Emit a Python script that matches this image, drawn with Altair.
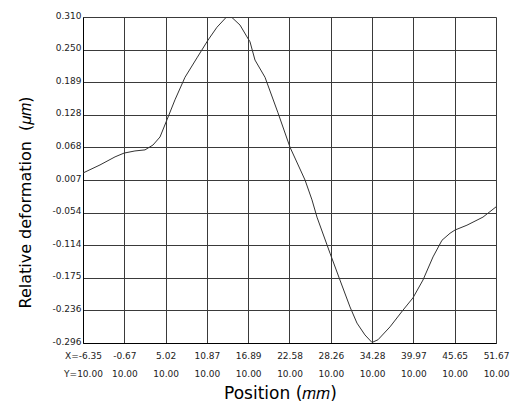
import altair as alt
import pandas as pd

# curve (position in mm, relative deformation in um)
pos_mm = [-6.35, -3.96, -1.85, -0.59, 0.95, 2.36, 3.48, 4.47, 5.45, 6.57, 7.98, 9.66,
          11.21, 12.47, 13.74, 14.58, 15.71, 16.69, 17.11, 17.81, 19.22, 21.04, 22.73,
          24.84, 25.82, 26.52, 28.35, 29.75, 31.16, 32.14, 33.26, 34.25, 35.09, 36.78,
          38.60, 40.01, 41.41, 42.82, 44.08, 45.21, 45.91, 47.59, 49.84, 51.67]
deform_um = [0.020, 0.035, 0.050, 0.057, 0.061, 0.063, 0.072, 0.087, 0.119, 0.156, 0.198, 0.234,
             0.267, 0.291, 0.309, 0.309, 0.295, 0.273, 0.264, 0.230, 0.198, 0.132, 0.068,
             0.007, -0.030, -0.062, -0.129, -0.179, -0.229, -0.259, -0.281, -0.295, -0.290, -0.266,
             -0.235, -0.212, -0.179, -0.136, -0.105, -0.092, -0.086, -0.077, -0.062, -0.043]

# tick labels
x_labels = ["-6.35", "-0.67", "5.02", "10.87", "16.89", "22.58", "28.26", "34.28", "39.97", "45.65", "51.67"]
y_row_labels = ["10.00"] * 11
y_labels = ["-0.296", "-0.236", "-0.175", "-0.114", "-0.054", "0.007", "0.068", "0.128", "0.189", "0.250", "0.310"]

x_min, x_max = -6.35, 51.67
y_min, y_max = -0.296, 0.310
x_step = (x_max - x_min) / 10
y_step = (y_max - y_min) / 10
x_ticks = [round(x_min + i * x_step, 6) for i in range(11)]
y_ticks = [round(y_min + i * y_step, 6) for i in range(11)]

x_label_items = []
for i, (a, b) in enumerate(zip(x_labels, y_row_labels)):
    if i == 0:
        a, b = "X=" + a, "Y=" + b
    x_label_items.append(f"['{a}','{b}']")
x_label_expr = "[" + ",".join(x_label_items) + f"][round((datum.value - ({x_min})) / {x_step})]"
y_label_expr = "[" + ",".join(f"'{s}'" for s in y_labels) + f"][round((datum.value - ({y_min})) / {y_step})]"

df = pd.DataFrame({"pos": pos_mm, "deform": deform_um})

chart = alt.Chart(df).mark_line(color="#333333", strokeWidth=1).encode(
    x=alt.X("pos:Q",
            scale=alt.Scale(domain=[x_min, x_max], nice=False, zero=False),
            axis=alt.Axis(values=x_ticks, labelExpr=x_label_expr, ticks=False,
                          labelPadding=8, labelLineHeight=18, labelBaseline="top",
                          labelFont="DejaVu Sans", labelFontSize=9, labelColor="#222222",
                          labelFlush=False, labelOverlap=False,
                          grid=True, gridColor="#3a3a3a", gridWidth=1,
                          domainColor="#000000",
                          title="Position (𝑚𝑚)", titleFont="DejaVu Sans", titleFontSize=17,
                          titleFontWeight="normal", titleColor="#000000",
                          titleX=197, titleY=50, titleBaseline="middle")),
    y=alt.Y("deform:Q",
            scale=alt.Scale(domain=[y_min, y_max], nice=False, zero=False),
            axis=alt.Axis(values=y_ticks, labelExpr=y_label_expr, ticks=False,
                          labelPadding=2, labelBaseline="middle", labelOffset=-2,
                          labelFont="DejaVu Sans", labelFontSize=9, labelColor="#222222",
                          labelFlush=False, labelOverlap=False,
                          grid=True, gridColor="#3a3a3a", gridWidth=1,
                          domainColor="#000000",
                          title="Relative deformation\u00a0\u00a0(𝜇𝑚)", titleFont="DejaVu Sans",
                          titleFontSize=16, titleFontWeight="normal", titleColor="#000000",
                          titleX=-58, titleY=185, titleBaseline="middle", titleAngle=-90)),
).properties(
    width=413, height=326,
    autosize=alt.AutoSizeParams(type="none"),
    padding={"left": 83, "top": 17, "right": 20, "bottom": 65},
).configure_view(stroke="#000000", strokeWidth=1).configure(background="white")

chart.save("out.html", embed_options={"renderer": "svg", "actions": False})
